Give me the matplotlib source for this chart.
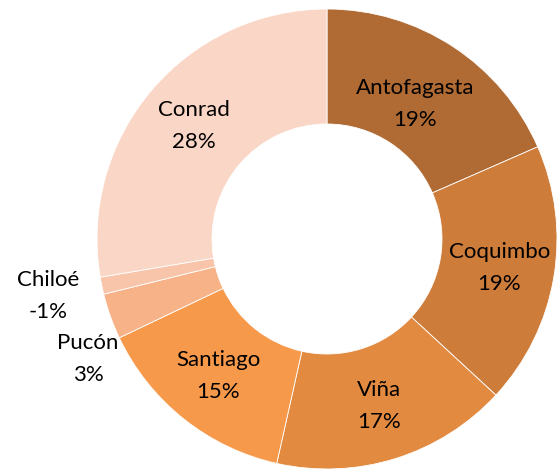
import numpy as np
import matplotlib.pyplot as plt

# Datos
ciudades = ['Antofagasta', 'Coquimbo', 'Viña', 'Santiago', 'Pucón', 'Chiloé', 'Conrad']
valores = [18.4, 18.4, 16.6, 14.4, 3.2, -1.2, 27.6]
colores = ['#B06A33', '#CE7C3A', '#E38A41', '#F7994B', '#F8B287', '#F9C5AA', '#F9D6C5']

plt.rcParams['font.family'] = ['Lato', 'DejaVu Sans']

fig = plt.figure(figsize=(5.6, 4.72), dpi=100)
# donut centro (327,239) px, radio 230 px
cx, cy, r_px = 327, 239, 230
ax = fig.add_axes([(cx - r_px) / 560, (472 - cy - r_px) / 472, 2 * r_px / 560, 2 * r_px / 472])

tamanos = np.abs(valores)
wedges, _ = ax.pie(tamanos, colors=colores, startangle=90, counterclock=False,
                   radius=1.0, wedgeprops=dict(width=0.5, edgecolor='white', linewidth=0.6))
ax.set_xlim(-1, 1)
ax.set_ylim(-1, 1)
ax.set_aspect('equal')
ax.axis('off')

total = sum(valores)
radio_lbl = {'Antofagasta': 0.70}
fuera = {'Chiloé': (-1.213, -0.248), 'Pucón': (-1.039, -0.522)}

for w, nombre, v in zip(wedges, ciudades, valores):
    texto = '{}\n{:.0f}%'.format(nombre, v / total * 100)
    if nombre in fuera:
        x, y = fuera[nombre]
    else:
        ang = np.deg2rad((w.theta1 + w.theta2) / 2)
        rr = radio_lbl.get(nombre, 0.76)
        x, y = rr * np.cos(ang), rr * np.sin(ang)
    ax.text(x, y, texto, ha='center', va='center', fontsize=16,
            linespacing=1.75, color='black', clip_on=False)

fig.savefig('out.png', dpi=100)
